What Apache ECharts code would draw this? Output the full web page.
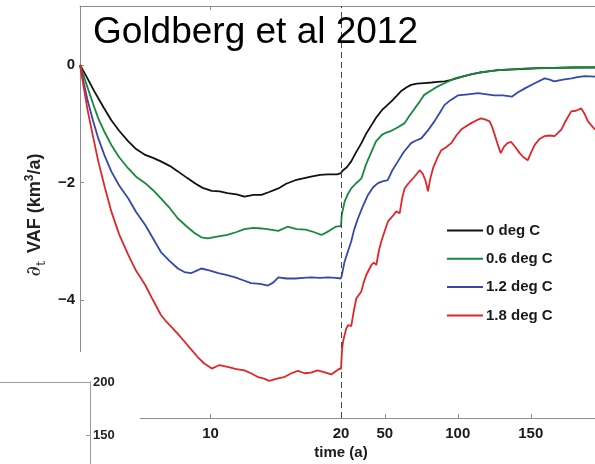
<!DOCTYPE html>
<html>
<head>
<meta charset="utf-8">
<script src="https://cdn.jsdelivr.net/npm/echarts@6/dist/echarts.min.js"></script>
<style>
  html, body { margin: 0; padding: 0; background: #fff; }
  #chart { width: 595px; height: 464px; }
</style>
</head>
<body>
<div id="chart"></div>
<script>
// Rate of change of volume above flotation, forcing switched off at t = 20 a.
// Each run is split into the forced phase (0-20 a) and the recovery phase (20-200 a),
// drawn on two side-by-side grids with different time scales.
const seriesNames = ['0 deg C', '0.6 deg C', '1.2 deg C', '1.8 deg C'];
const seriesColors = ['#111111', '#168a3c', '#3548ad', '#e1262b'];

const yTicks = [0, -2, -4];
const earlyTicks = [10, 20];
const lateTicks = [50, 100, 150];
const insetTicks = [150, 200];

// [time (a), dVAF/dt (km^3/a)]
const warm00Early = [[0,0],[0.5,-0.2],[1.1,-0.45],[1.8,-0.72],[2.4,-0.94],[3.0,-1.12],[3.7,-1.30],[4.3,-1.43],[5.0,-1.53],[5.6,-1.58],[6.2,-1.64],[6.9,-1.72],[7.5,-1.81],[8.2,-1.92],[8.8,-2.01],[9.4,-2.09],[10.1,-2.14],[10.7,-2.15],[11.3,-2.18],[12.0,-2.20],[12.6,-2.24],[13.3,-2.21],[13.9,-2.21],[14.5,-2.16],[15.2,-2.10],[15.8,-2.02],[16.5,-1.96],[17.1,-1.93],[17.7,-1.90],[18.4,-1.87],[19.0,-1.86],[19.7,-1.86],[20,-1.84]];
const warm00Late = [[20,-1.84],[21,-1.80],[24,-1.74],[27,-1.64],[30,-1.50],[34,-1.33],[37,-1.18],[41,-1.02],[44,-0.90],[48,-0.77],[51,-0.70],[54.5,-0.62],[58,-0.53],[61,-0.45],[65,-0.38],[68,-0.34],[72,-0.32],[77,-0.31],[82,-0.30],[86,-0.29],[91,-0.28],[95,-0.26],[102,-0.21],[109,-0.16],[115,-0.13],[121,-0.11],[127,-0.09],[132,-0.085],[143,-0.07],[155,-0.057],[166,-0.05],[178,-0.045],[194,-0.045]];

const warm06Early = [[0,0],[0.3,-0.2],[0.6,-0.40],[1.0,-0.66],[1.4,-0.91],[1.9,-1.15],[2.4,-1.36],[3.0,-1.57],[3.7,-1.76],[4.3,-1.90],[5.0,-2.01],[5.6,-2.13],[6.2,-2.27],[6.9,-2.44],[7.5,-2.61],[8.2,-2.75],[8.8,-2.86],[9.3,-2.93],[9.8,-2.95],[10.5,-2.92],[11.3,-2.89],[12.0,-2.84],[12.6,-2.79],[13.3,-2.77],[13.9,-2.78],[14.6,-2.80],[15.2,-2.82],[15.9,-2.75],[16.6,-2.79],[17.3,-2.80],[17.9,-2.84],[18.5,-2.89],[19.1,-2.82],[19.6,-2.75],[20,-2.74]];
const warm06Late = [[20,-2.74],[20.5,-2.55],[22.5,-2.32],[25,-2.18],[27,-2.10],[30,-2.02],[34,-1.93],[37,-1.70],[41,-1.47],[44,-1.30],[48,-1.19],[51,-1.15],[54.5,-1.12],[59,-1.06],[63.6,-0.99],[67,-0.86],[70.5,-0.74],[74,-0.62],[77,-0.51],[82,-0.43],[86,-0.37],[92,-0.30],[98,-0.23],[104,-0.19],[109,-0.16],[115,-0.13],[121,-0.11],[132,-0.08],[143,-0.068],[155,-0.058],[166,-0.05],[180,-0.045],[194,-0.04]];

const warm12Early = [[0,0],[0.3,-0.32],[0.6,-0.62],[1.0,-0.95],[1.4,-1.25],[1.9,-1.55],[2.4,-1.81],[3.0,-2.05],[3.7,-2.27],[4.3,-2.50],[5.0,-2.72],[5.6,-2.95],[6.2,-3.18],[6.9,-3.34],[7.5,-3.46],[8.0,-3.52],[8.5,-3.54],[8.9,-3.50],[9.3,-3.46],[9.9,-3.49],[10.6,-3.54],[11.2,-3.57],[11.9,-3.61],[12.5,-3.66],[13.1,-3.71],[13.8,-3.72],[14.4,-3.75],[14.8,-3.70],[15.2,-3.61],[15.8,-3.63],[16.5,-3.63],[17.1,-3.62],[17.7,-3.61],[18.4,-3.62],[19.0,-3.61],[19.6,-3.62],[20,-3.63]];
const warm12Late = [[20,-3.63],[20.5,-3.58],[22.5,-3.34],[25,-3.15],[27,-3.00],[29,-2.80],[31.6,-2.61],[35,-2.40],[38.5,-2.21],[42,-2.08],[45.3,-2.01],[48.5,-1.98],[52,-1.96],[55,-1.80],[59,-1.64],[63,-1.48],[68,-1.33],[71,-1.29],[75,-1.25],[80,-1.10],[84,-0.96],[88,-0.80],[91,-0.68],[95,-0.60],[100,-0.52],[107,-0.50],[114,-0.48],[120,-0.50],[125,-0.52],[131,-0.52],[137,-0.54],[141,-0.47],[146,-0.40],[152,-0.32],[159.5,-0.23],[163,-0.25],[166,-0.28],[172,-0.25],[178,-0.23],[182,-0.21],[187,-0.19],[194,-0.20]];

const warm18Early = [[0,0],[0.3,-0.40],[0.6,-0.79],[1.0,-1.22],[1.4,-1.64],[1.9,-2.08],[2.4,-2.49],[3.0,-2.88],[3.7,-3.23],[4.3,-3.50],[5.0,-3.74],[5.6,-4.00],[6.2,-4.25],[6.6,-4.36],[7.0,-4.45],[7.5,-4.57],[8.0,-4.70],[8.5,-4.83],[9.0,-4.96],[9.5,-5.07],[10.1,-5.16],[10.7,-5.10],[11.3,-5.13],[12.0,-5.17],[12.6,-5.19],[13.1,-5.24],[13.6,-5.30],[14.1,-5.33],[14.5,-5.37],[15.1,-5.33],[15.7,-5.30],[16.2,-5.24],[16.7,-5.20],[17.2,-5.24],[17.7,-5.23],[18.2,-5.19],[18.7,-5.22],[19.25,-5.26],[19.9,-5.16],[20,-5.17]];
const warm18Late = [[20,-5.17],[20.7,-4.85],[21.4,-4.70],[23.6,-4.48],[25,-4.42],[27,-4.44],[29,-4.15],[30.5,-3.97],[33.9,-3.85],[35.5,-3.70],[37.3,-3.57],[40.8,-3.40],[42.5,-3.36],[44.2,-3.40],[46,-3.15],[47.6,-3.00],[50,-2.82],[52.2,-2.66],[55,-2.58],[57.9,-2.49],[60.2,-2.52],[62,-2.25],[63.6,-2.10],[66,-2.02],[68.2,-1.96],[71,-1.88],[73.9,-1.79],[76,-1.85],[77.8,-1.96],[79.6,-2.15],[81,-1.95],[83,-1.76],[86,-1.58],[88.7,-1.45],[92,-1.40],[95.5,-1.33],[99,-1.20],[102.3,-1.10],[106,-1.04],[109.2,-0.99],[113,-0.94],[116,-0.91],[119,-0.93],[121.8,-0.96],[123.5,-1.05],[125.3,-1.19],[127.5,-1.36],[129.4,-1.50],[131.7,-1.39],[134,-1.33],[136.6,-1.31],[139.5,-1.40],[142.4,-1.50],[145,-1.57],[148,-1.62],[150,-1.50],[152.7,-1.36],[156,-1.26],[159.5,-1.21],[163,-1.20],[166.3,-1.21],[168.5,-1.16],[170.9,-1.10],[174,-0.95],[177.7,-0.79],[181,-0.78],[184.6,-0.74],[187,-0.84],[189.2,-0.96],[194,-1.10]];

const earlyRuns = [warm00Early, warm06Early, warm12Early, warm18Early];
const lateRuns = [warm00Late, warm06Late, warm12Late, warm18Late];

const FONT = '"Liberation Sans", Arial, Helvetica, sans-serif';
const AXIS_GREY = '#8c8c8c';
const labelStyle = { color: '#1a1a1a', fontSize: 15, fontWeight: 'bold', fontFamily: FONT };
const minus = v => String(v).replace('-', '\u2212');
// plain horizontal stroke used as the legend key
const LEGEND_LINE = 'path://M0,0 L36,0 L36,2 L0,2 Z';

const chart = echarts.init(document.getElementById('chart'), null, { renderer: 'canvas' });

const series = [];
seriesNames.forEach((name, i) => {
  const common = {
    name, type: 'line', symbol: 'none', showSymbol: false,
    lineStyle: { color: seriesColors[i], width: 1.8 },
    itemStyle: { color: seriesColors[i] },
    z: 3 + i, animation: false, silent: true
  };
  const early = Object.assign({}, common, { xAxisIndex: 0, yAxisIndex: 0, data: earlyRuns[i] });
  if (i === 0) {
    // forcing switched off
    early.markLine = {
      silent: true, symbol: ['none', 'none'], animation: false,
      label: { show: false },
      lineStyle: { color: '#444', width: 1, type: [6, 4] },
      data: [{ xAxis: 20 }]
    };
  }
  series.push(early);
  series.push(Object.assign({}, common, { xAxisIndex: 1, yAxisIndex: 1, data: lateRuns[i] }));
});

const gridBase = { containLabel: false, outerBoundsMode: 'none' };

chart.setOption({
  animation: false,
  backgroundColor: '#ffffff',
  textStyle: { fontFamily: FONT },
  grid: [
    Object.assign({ left: 80, top: 6, width: 261, height: 412 }, gridBase),
    Object.assign({ left: 341, top: 6, width: 254, height: 412 }, gridBase),
    Object.assign({ left: -20, top: 382, width: 110, height: 106 }, gridBase)
  ],
  xAxis: [
    {
      gridIndex: 0, type: 'value', min: 0, max: 20, position: 'bottom',
      axisLine: { onZero: false, lineStyle: { color: AXIS_GREY, width: 1 } },
      axisTick: { inside: true, length: 4, customValues: earlyTicks, lineStyle: { color: AXIS_GREY } },
      axisLabel: Object.assign({ customValues: earlyTicks, margin: 8 }, labelStyle),
      splitLine: { show: false }
    },
    {
      gridIndex: 1, type: 'value', min: 20, max: 194, position: 'bottom',
      axisLine: { onZero: false, lineStyle: { color: AXIS_GREY, width: 1 } },
      axisTick: { inside: true, length: 4, customValues: lateTicks, lineStyle: { color: AXIS_GREY } },
      axisLabel: Object.assign({ customValues: lateTicks, margin: 8 }, labelStyle),
      splitLine: { show: false }
    },
    {
      gridIndex: 0, type: 'value', min: 0, max: 20, position: 'top',
      axisLine: { onZero: false, lineStyle: { color: AXIS_GREY, width: 1 } },
      axisTick: { inside: true, length: 4, customValues: [10], lineStyle: { color: AXIS_GREY } },
      axisLabel: { show: false }, splitLine: { show: false }
    },
    {
      gridIndex: 1, type: 'value', min: 20, max: 194, position: 'top',
      axisLine: { onZero: false, lineStyle: { color: AXIS_GREY, width: 1 } },
      axisTick: { show: false }, axisLabel: { show: false }, splitLine: { show: false }
    },
    {
      gridIndex: 2, type: 'value', min: 0, max: 1, position: 'top', z: 60,
      axisLine: { onZero: false, lineStyle: { color: '#9a9a9a', width: 1 } },
      axisTick: { show: false }, axisLabel: { show: false }, splitLine: { show: false }
    }
  ],
  yAxis: [
    {
      gridIndex: 0, type: 'value', min: -6, max: 1, position: 'left',
      axisLine: { show: true, onZero: false, lineStyle: { color: AXIS_GREY, width: 1 } },
      axisTick: { show: true, inside: true, length: 4, customValues: yTicks, lineStyle: { color: AXIS_GREY } },
      axisLabel: Object.assign({ customValues: yTicks, margin: 5, formatter: minus }, labelStyle),
      splitLine: { show: false }
    },
    { gridIndex: 1, type: 'value', min: -6, max: 1, show: false },
    {
      gridIndex: 2, type: 'value', min: 100, max: 200, interval: 50, position: 'right', z: 60,
      axisLine: { show: true, onZero: false, lineStyle: { color: '#9a9a9a', width: 1 } },
      axisTick: { show: true, inside: true, length: 4, customValues: insetTicks, lineStyle: { color: '#9a9a9a' } },
      axisLabel: { customValues: insetTicks, margin: 3, color: '#222', fontSize: 13, fontWeight: 'bold', fontFamily: FONT },
      splitLine: { show: false }
    }
  ],
  legend: {
    data: seriesNames.map(name => ({ name, icon: LEGEND_LINE })),
    orient: 'vertical', left: 447, top: 223, padding: 0,
    itemWidth: 36, itemHeight: 14, itemGap: 13.3,
    symbolKeepAspect: true,
    selectedMode: false,
    textStyle: { color: '#1a1a1a', fontSize: 15, fontWeight: 'bold', fontFamily: FONT, padding: [0, 0, 0, -2] }
  },
  graphic: [
    {
      type: 'rect', z: 50, silent: true,
      shape: { x: 0, y: 352, width: 140, height: 112 },
      style: { fill: '#ffffff' }
    },
    {
      type: 'text', z: 70, silent: true, x: 93, y: 33,
      style: { text: 'Goldberg et al 2012', font: '37px ' + FONT, fill: '#000', textVerticalAlign: 'middle' }
    },
    {
      type: 'text', z: 70, silent: true, x: 341, y: 453,
      style: { text: 'time (a)', font: 'bold 15px ' + FONT, fill: '#1a1a1a', textAlign: 'center', textVerticalAlign: 'middle' }
    },
    {
      type: 'text', z: 70, silent: true, x: 35, y: 215, rotation: Math.PI / 2,
      style: {
        text: '{d|\u2202}{t|t}{b| VAF (km}{s|3}{b|/a)}',
        textAlign: 'center', textVerticalAlign: 'middle',
        rich: {
          d: { fontFamily: '"DejaVu Serif", serif', fontStyle: 'italic', fontSize: 20, fill: '#222', lineHeight: 26, verticalAlign: 'middle' },
          t: { fontFamily: '"DejaVu Serif", serif', fontSize: 13, fill: '#222', lineHeight: 26, verticalAlign: 'bottom', padding: [0, 3, 0, 0] },
          b: { fontFamily: FONT, fontWeight: 'bold', fontSize: 18, fill: '#222', lineHeight: 26, verticalAlign: 'middle' },
          s: { fontFamily: FONT, fontWeight: 'bold', fontSize: 12, fill: '#222', lineHeight: 26, verticalAlign: 'top', padding: [2, 0, 0, 0] }
        }
      }
    }
  ],
  series
});
</script>
</body>
</html>
